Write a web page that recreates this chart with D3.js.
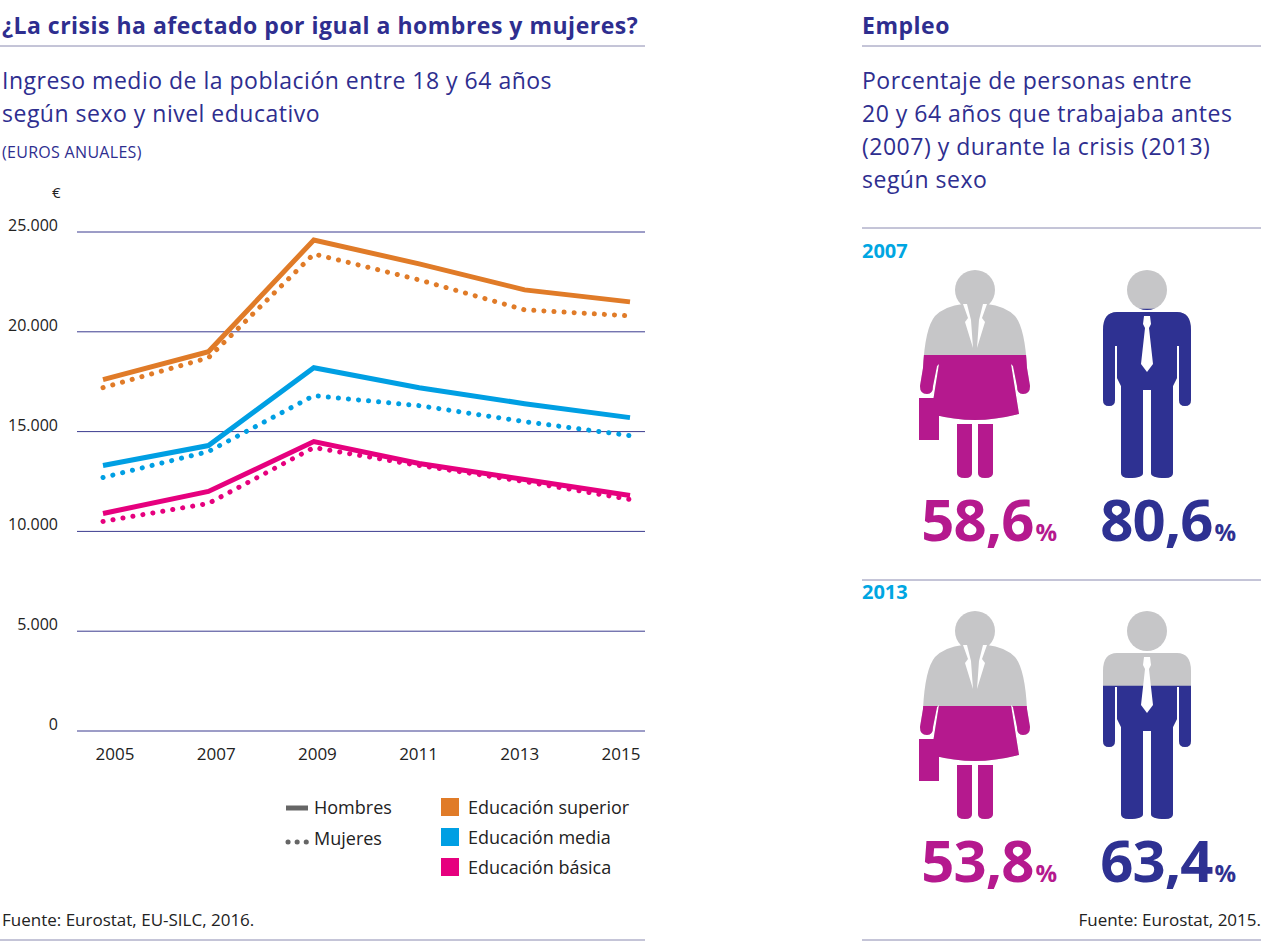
<!DOCTYPE html><html><head><meta charset="utf-8"><script src="https://cdn.jsdelivr.net/npm/d3@7"></script>
<style>body{margin:0;background:#fff}text{font-family:"Open Sans","Liberation Sans",Arial,sans-serif}</style></head><body>
<svg id="c" width="1261" height="943"></svg>
<script>
const years=[2005,2007,2009,2011,2013,2015];
const yTicks=[0,5000,10000,15000,20000,25000];
const supH=[17600,19000,24600,23400,22100,21500];
const supM=[17200,18700,23900,22600,21100,20800];
const medH=[13300,14300,18200,17200,16400,15700];
const medM=[12700,14000,16800,16300,15500,14800];
const basH=[10900,12000,14500,13400,12600,11800];
const basM=[10500,11400,14200,13300,12500,11600];
const empYears=["2007","2013"];
const empWomen=[58.6,53.8];
const empMen=[80.6,63.4];
const navy="#2e2e8f",orange="#e07b28",blue="#009fe3",pink="#e6007e",mag="#b5198e",mnavy="#2e3192",gray="#c6c6c8",cyan="#00a6e2";
const svg=d3.select("#c");
const T=(x,y,t,o={})=>svg.append("text").attr("x",x).attr("y",y).text(t).attr("font-size",o.s||20).attr("fill",o.f||navy).attr("font-weight",o.w||"normal").attr("text-anchor",o.a||"start").attr("letter-spacing",o.ls||0);
const hr=(x1,x2,y,c)=>svg.append("line").attr("x1",x1).attr("x2",x2).attr("y1",y).attr("y2",y).attr("stroke",c||"#2e2e8f").attr("stroke-width",1);
T(2,34,"¿La crisis ha afectado por igual a hombres y mujeres?",{s:23,w:"bold",ls:0.5});hr(0,645,46,"#8a8ab0");
T(2,89,"Ingreso medio de la población entre 18 y 64 años",{s:23,ls:0.5});
T(2,122,"según sexo y nivel educativo",{s:23,ls:0.5});
T(2,158,"(EUROS ANUALES)",{s:16,ls:0.3});
T(52,198,"€",{s:15,f:"#222"});
const x=d3.scalePoint().domain(years).range([103,630]);
const xl=d3.scalePoint().domain(years).range([115,621]);
const y=d3.scaleLinear().domain([0,25000]).range([731,232]);
yTicks.forEach(v=>{hr(77,645,y(v),"#3b3b8f");T(58,y(v)-1,d3.format(",")(v).replace(",","."),{s:16,f:"#222",a:"end"});});
years.forEach(v=>T(xl(v),760,v,{s:17,f:"#222",a:"middle"}));
const line=d3.line().x((d,i)=>x(years[i])).y(d=>y(d));
[[supH,orange],[medH,blue],[basH,pink]].forEach(([d,c])=>svg.append("path").attr("d",line(d)).attr("fill","none").attr("stroke",c).attr("stroke-width",5));
[[supM,orange],[medM,blue],[basM,pink]].forEach(([d,c])=>svg.append("path").attr("d",line(d)).attr("fill","none").attr("stroke",c).attr("stroke-width",5).attr("stroke-linecap","round").attr("stroke-dasharray","0.1 10"));
svg.append("line").attr("x1",286).attr("x2",308).attr("y1",808).attr("y2",808).attr("stroke","#666").attr("stroke-width",5);
svg.append("line").attr("x1",288).attr("x2",308).attr("y1",842).attr("y2",842).attr("stroke","#666").attr("stroke-width",5).attr("stroke-linecap","round").attr("stroke-dasharray","0.1 9");
T(314,814,"Hombres",{s:18,f:"#222"});T(314,845,"Mujeres",{s:18,f:"#222"});
[["Educación superior",orange],["Educación media",blue],["Educación básica",pink]].forEach(([t,c],i)=>{svg.append("rect").attr("x",441).attr("y",798+i*30).attr("width",18).attr("height",18).attr("fill",c);T(468,814+i*30,t,{s:18,f:"#222"});});
T(2,926,"Fuente: Eurostat, EU-SILC, 2016.",{s:17,f:"#222"});hr(0,645,940,"#8a8ab0");
T(862,34,"Empleo",{s:23,w:"bold",ls:0.5});hr(862,1261,46,"#8a8ab0");
["Porcentaje de personas entre","20 y 64 años que trabajaba antes","(2007) y durante la crisis (2013)","según sexo"].forEach((t,i)=>T(862,89+i*33,t,{s:23,ls:0.5}));
T(1261,926,"Fuente: Eurostat, 2015.",{s:17,f:"#222",a:"end"});hr(862,1261,940,"#8a8ab0");
const woman="M-40,48 Q-30,38 -12,36 L12,36 Q30,38 40,48 Q50,60 52,100 L55,118 Q55,126 48,126 Q42,126 42,118 L38,98 L36,96 L44,146 Q20,152 0,152 Q-20,152 -44,146 L-36,96 L-38,98 L-42,118 Q-42,126 -48,126 Q-55,126 -55,118 L-52,100 Q-50,60 -40,48Z M-18,156 L-3,156 L-3,205 Q-3,210 -10,210 Q-18,210 -18,205Z M3,156 L18,156 L18,205 Q18,210 10,210 Q3,210 3,205Z M-56,130 L-36,130 L-36,172 L-56,172Z";
const man="M-30,44 L30,44 Q44,44 44,62 L44,132 Q44,138 38,138 Q32,138 32,132 L32,78 L30,78 L30,110 L26,118 L26,205 Q26,210 18,210 Q4,210 4,205 L4,122 L-4,122 L-4,205 Q-4,210 -18,210 Q-26,210 -26,205 L-26,118 L-30,110 L-30,78 L-32,78 L-32,132 Q-32,138 -38,138 Q-44,138 -44,132 L-44,62 Q-44,44 -30,44Z";
function person(cx,top,path,col,pct,isW,id){
 const fillY=210-pct/100*210;
 svg.append("clipPath").attr("id",id).append("rect").attr("x",cx-70).attr("y",top+fillY).attr("width",140).attr("height",300);
 const g0=svg.append("g").attr("transform",`translate(${cx},${top})`);
 g0.append("circle").attr("cx",0).attr("cy",22).attr("r",20).attr("fill",gray);
 g0.append("path").attr("d",path).attr("fill",gray);
 const h=svg.append("g").attr("clip-path",`url(#${id})`).append("g").attr("transform",`translate(${cx},${top})`);
 h.append("circle").attr("cx",0).attr("cy",22).attr("r",20).attr("fill",col);
 h.append("path").attr("d",path).attr("fill",col);
 const w=svg.append("g").attr("transform",`translate(${cx},${top})`);
 if(isW)w.append("path").attr("d","M-12,36 L-7,50 L-10,54 L-2,80 L-4,52 L-8,36Z M12,36 L7,50 L10,54 L2,80 L4,52 L8,36Z").attr("fill","#fff");
 else w.append("path").attr("d","M-3,48 L3,48 L4,56 L2,60 L6,96 L0,104 L-6,96 L-2,60 L-4,56Z").attr("fill","#fff");
}
empYears.forEach((yr,i)=>{
 const b=i*341;
 T(862,258+b,yr,{s:20,w:"bold",f:cyan});
 if(i==1)hr(862,1261,580,"#8a8ab0");
 person(975,268+b,woman,mag,empWomen[i],true,"cw"+i);
 person(1147,268+b,man,mnavy,empMen[i],false,"cm"+i);
 const fmt=v=>d3.format(".1f")(v).replace(".",",");
 [[1056,empWomen[i],mag],[1235,empMen[i],mnavy]].forEach(([xx,v,c])=>{
  const t=svg.append("text").attr("x",xx).attr("y",541+b).attr("text-anchor","end").attr("fill",c).attr("font-weight","bold").attr("font-size",58).attr("font-family","Liberation Sans").attr("letter-spacing",-1);
  t.append("tspan").text(fmt(v));t.append("tspan").text("%").attr("font-size",24).attr("dx",2);});
});
hr(862,1261,228,"#8a8ab0");
</script></body></html>
